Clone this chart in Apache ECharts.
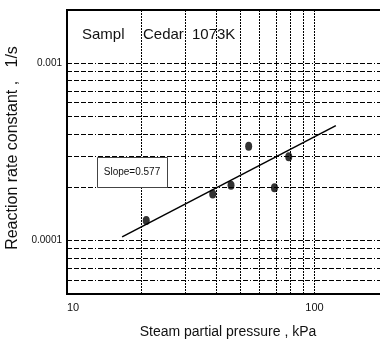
<!DOCTYPE html>
<html>
<head>
<meta charset="utf-8">
<script src="https://cdn.jsdelivr.net/npm/echarts@6/dist/echarts.min.js"></script>
<style>
  html, body { margin: 0; padding: 0; background: #fff; }
  #main { width: 380px; height: 345px; }
</style>
</head>
<body>
<div id="main"></div>
<script>
// measured points: steam partial pressure (kPa) vs rate constant (1/s)
var pressure = [20.9, 38.8, 46.0, 54.2, 68.9, 78.7];
var rateConst = [0.000130, 0.000183, 0.000205, 0.000341, 0.000199, 0.000297];

// fitted line end points
var fitX = [16.7, 122];
var fitY = [0.000105, 0.000445];

var xTickLabels = ['10', '100'];
var yTickLabels = ['0.0001', '0.001'];

var xGrid = [20, 30, 40, 50, 60, 70, 80, 90, 100];
var yGrid = [0.00006, 0.00007, 0.00008, 0.00009, 0.0001, 0.0002, 0.0003, 0.0004,
             0.0005, 0.0006, 0.0007, 0.0008, 0.0009, 0.001];

function pickLabel(list) {
  return function (v) {
    for (var i = 0; i < list.length; i++) {
      var t = parseFloat(list[i]);
      if (Math.abs(Math.log10(v) - Math.log10(t)) < 1e-6) return list[i];
    }
    return '';
  };
}

var myChart = echarts.init(document.getElementById('main'));

var option = {
  animation: false,
  textStyle: { fontFamily: 'Liberation Sans' },
  grid: {
    left: 67, top: 10, width: 322, height: 284,
    outerBoundsMode: 'none',
    show: true, borderColor: '#000', borderWidth: 2, backgroundColor: '#fff'
  },
  xAxis: {
    type: 'log', logBase: 10, min: 10, max: 200,
    name: 'Steam partial pressure , kPa',
    nameLocation: 'middle', nameGap: 31,
    nameTextStyle: { fontSize: 14, color: '#111' },
    axisLine: { lineStyle: { color: '#000', width: 2 } },
    axisTick: { show: false },
    splitLine: { show: false },
    axisLabel: {
      fontSize: 11, color: '#111', margin: 8,
      alignMinLabel: 'left',
      formatter: pickLabel(xTickLabels)
    }
  },
  yAxis: {
    type: 'log', logBase: 10, min: 0.00005, max: 0.002,
    name: 'Reaction rate constant ,   1/s',
    nameLocation: 'middle', nameGap: 39,
    nameTextStyle: { fontSize: 16, color: '#111', padding: [0, 0, 0, 8] },
    axisLine: { lineStyle: { color: '#000', width: 2 } },
    axisTick: { show: false },
    splitLine: { show: false },
    axisLabel: {
      fontSize: 10, color: '#111', margin: 5,
      formatter: pickLabel(yTickLabels)
    }
  },
  graphic: [
    { type: 'text', left: 82, top: 27, z: 100,
      style: { text: 'Sampl', font: '15px "Liberation Sans"', fill: '#111' } },
    { type: 'text', left: 143, top: 27, z: 100,
      style: { text: 'Cedar', font: '15px "Liberation Sans"', fill: '#111' } },
    { type: 'text', left: 192, top: 27, z: 100,
      style: { text: '1073K', font: '15px "Liberation Sans"', fill: '#111' } },
    { type: 'rect', z: 100,
      shape: { x: 97.5, y: 157.5, width: 70, height: 30 },
      style: { fill: '#fff', stroke: '#444', lineWidth: 1 } },
    { type: 'text', x: 132, y: 172, z: 101,
      style: { text: 'Slope=0.577', font: '10px "Liberation Sans"', fill: '#111',
               align: 'center', verticalAlign: 'middle' } }
  ],
  series: [
    {
      type: 'scatter',
      data: pressure.map(function (p, i) { return [p, rateConst[i]]; }),
      symbol: 'circle',
      symbolSize: [7, 9],
      itemStyle: { color: '#000' },
      z: 5,
      markLine: {
        silent: true, symbol: 'none', animation: false,
        label: { show: false },
        lineStyle: { color: '#000', width: 1, type: [2, 1] },
        data: xGrid.map(function (v) { return { xAxis: v }; })
      }
    },
    {
      type: 'line',
      data: fitX.map(function (x, i) { return [x, fitY[i]]; }),
      showSymbol: false,
      lineStyle: { color: '#000', width: 1.5 },
      z: 4,
      markLine: {
        silent: true, symbol: 'none', animation: false,
        label: { show: false },
        lineStyle: { color: '#000', width: 1, type: [5, 2, 5, 2, 5, 2, 5, 2, 1, 2] },
        data: yGrid.map(function (v) { return [{ coord: [10, v] }, { coord: [200, v] }]; })
      }
    }
  ]
};
myChart.setOption(option);

window.onresize = function () {
  myChart.resize();
};
</script>
</body>
</html>
